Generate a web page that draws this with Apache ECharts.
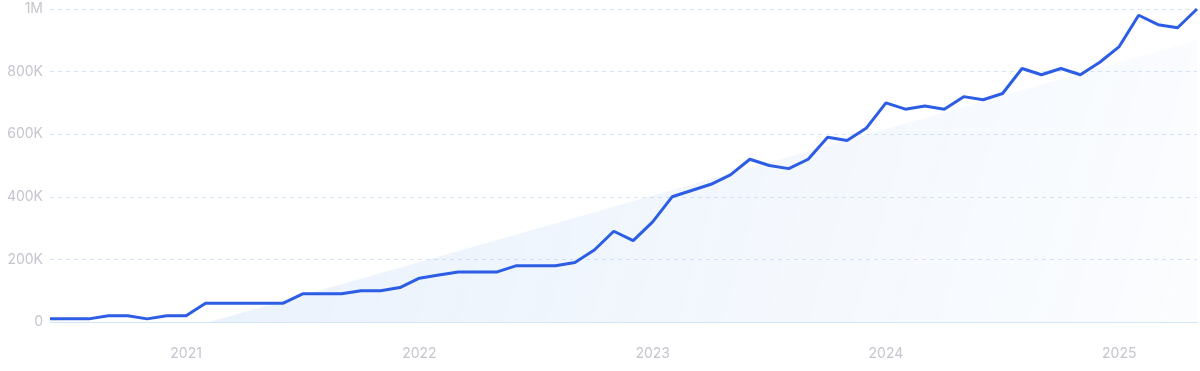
<!DOCTYPE html>
<html>
<head>
<meta charset="utf-8">
<script src="https://cdn.jsdelivr.net/npm/echarts@6/dist/echarts.min.js"></script>
<style>
html,body{margin:0;padding:0;background:#fff;}
#chart{width:1200px;height:371px;}
</style>
</head>
<body>
<div id="chart"></div>
<script>
// Monthly categories, 2020-06 .. 2025-05
const months = [
  '2020-06','2020-07','2020-08','2020-09','2020-10','2020-11','2020-12',
  '2021-01','2021-02','2021-03','2021-04','2021-05','2021-06','2021-07','2021-08','2021-09','2021-10','2021-11','2021-12',
  '2022-01','2022-02','2022-03','2022-04','2022-05','2022-06','2022-07','2022-08','2022-09','2022-10','2022-11','2022-12',
  '2023-01','2023-02','2023-03','2023-04','2023-05','2023-06','2023-07','2023-08','2023-09','2023-10','2023-11','2023-12',
  '2024-01','2024-02','2024-03','2024-04','2024-05','2024-06','2024-07','2024-08','2024-09','2024-10','2024-11','2024-12',
  '2025-01','2025-02','2025-03','2025-04','2025-05'
];
const values = [
  10000,10000,10000,20000,20000,10000,20000,
  20000,60000,60000,60000,60000,60000,90000,90000,90000,100000,100000,110000,
  140000,150000,160000,160000,160000,180000,180000,180000,190000,230000,290000,260000,
  320000,400000,420000,440000,470000,520000,500000,490000,520000,590000,580000,620000,
  700000,680000,690000,680000,720000,710000,730000,810000,790000,810000,790000,830000,
  880000,980000,950000,940000,1000000
];
// Trend area endpoints (month position, value)
const trendX = [8.2, 59];
const trendY = [0, 900000];
// X tick labels and their month positions
const yearLabels = ['2021','2022','2023','2024','2025'];
const yearMonths = ['2021-01','2022-01','2023-01','2024-01','2025-01'];
const yearPos = yearMonths.map(m => months.indexOf(m));

const chart = echarts.init(document.getElementById('chart'));
const labelColor = '#c4c5cd';
chart.setOption({
  animation: false,
  grid: {left: 50, right: 3, top: 9, bottom: 49, containLabel: false},
  xAxis: {
    type: 'value',
    min: 0,
    max: months.length - 1,
    axisLine: {show: true, lineStyle: {color: '#d3e6f8', width: 1}},
    axisTick: {show: false},
    splitLine: {show: false},
    axisLabel: {
      customValues: yearPos,
      formatter: v => yearLabels[yearPos.indexOf(Math.round(v))] || '',
      color: labelColor,
      fontFamily: 'Inter',
      fontSize: 14,
      margin: 25
    }
  },
  yAxis: {
    type: 'value',
    min: 0,
    max: 1000000,
    interval: 200000,
    axisLine: {show: false},
    axisTick: {show: false},
    splitLine: {show: true, lineStyle: {color: '#d8e5f7', type: [4, 4], width: 1}},
    axisLabel: {
      formatter: v => v === 0 ? '0' : (v >= 1000000 ? (v/1000000) + 'M' : (v/1000) + 'K'),
      color: labelColor,
      fontFamily: 'Inter',
      fontSize: 14,
      margin: 7
    }
  },
  series: [
    {
      type: 'line',
      data: trendX.map((x, i) => [x, trendY[i]]),
      symbol: 'none',
      lineStyle: {width: 0, opacity: 0},
      areaStyle: {
        color: {
          type: 'linear', x: 0, y: 0, x2: 1, y2: 1,
          colorStops: [
            {offset: 0, color: 'rgba(70,140,230,0.17)'},
            {offset: 1, color: 'rgba(70,140,230,0.03)'}
          ]
        }
      },
      z: 1,
      silent: true
    },
    {
      type: 'line',
      data: values.map((v, i) => [i, v]),
      symbol: 'none',
      lineStyle: {color: '#2c5de4', width: 3},
      z: 3
    }
  ]
});
</script>
</body>
</html>
